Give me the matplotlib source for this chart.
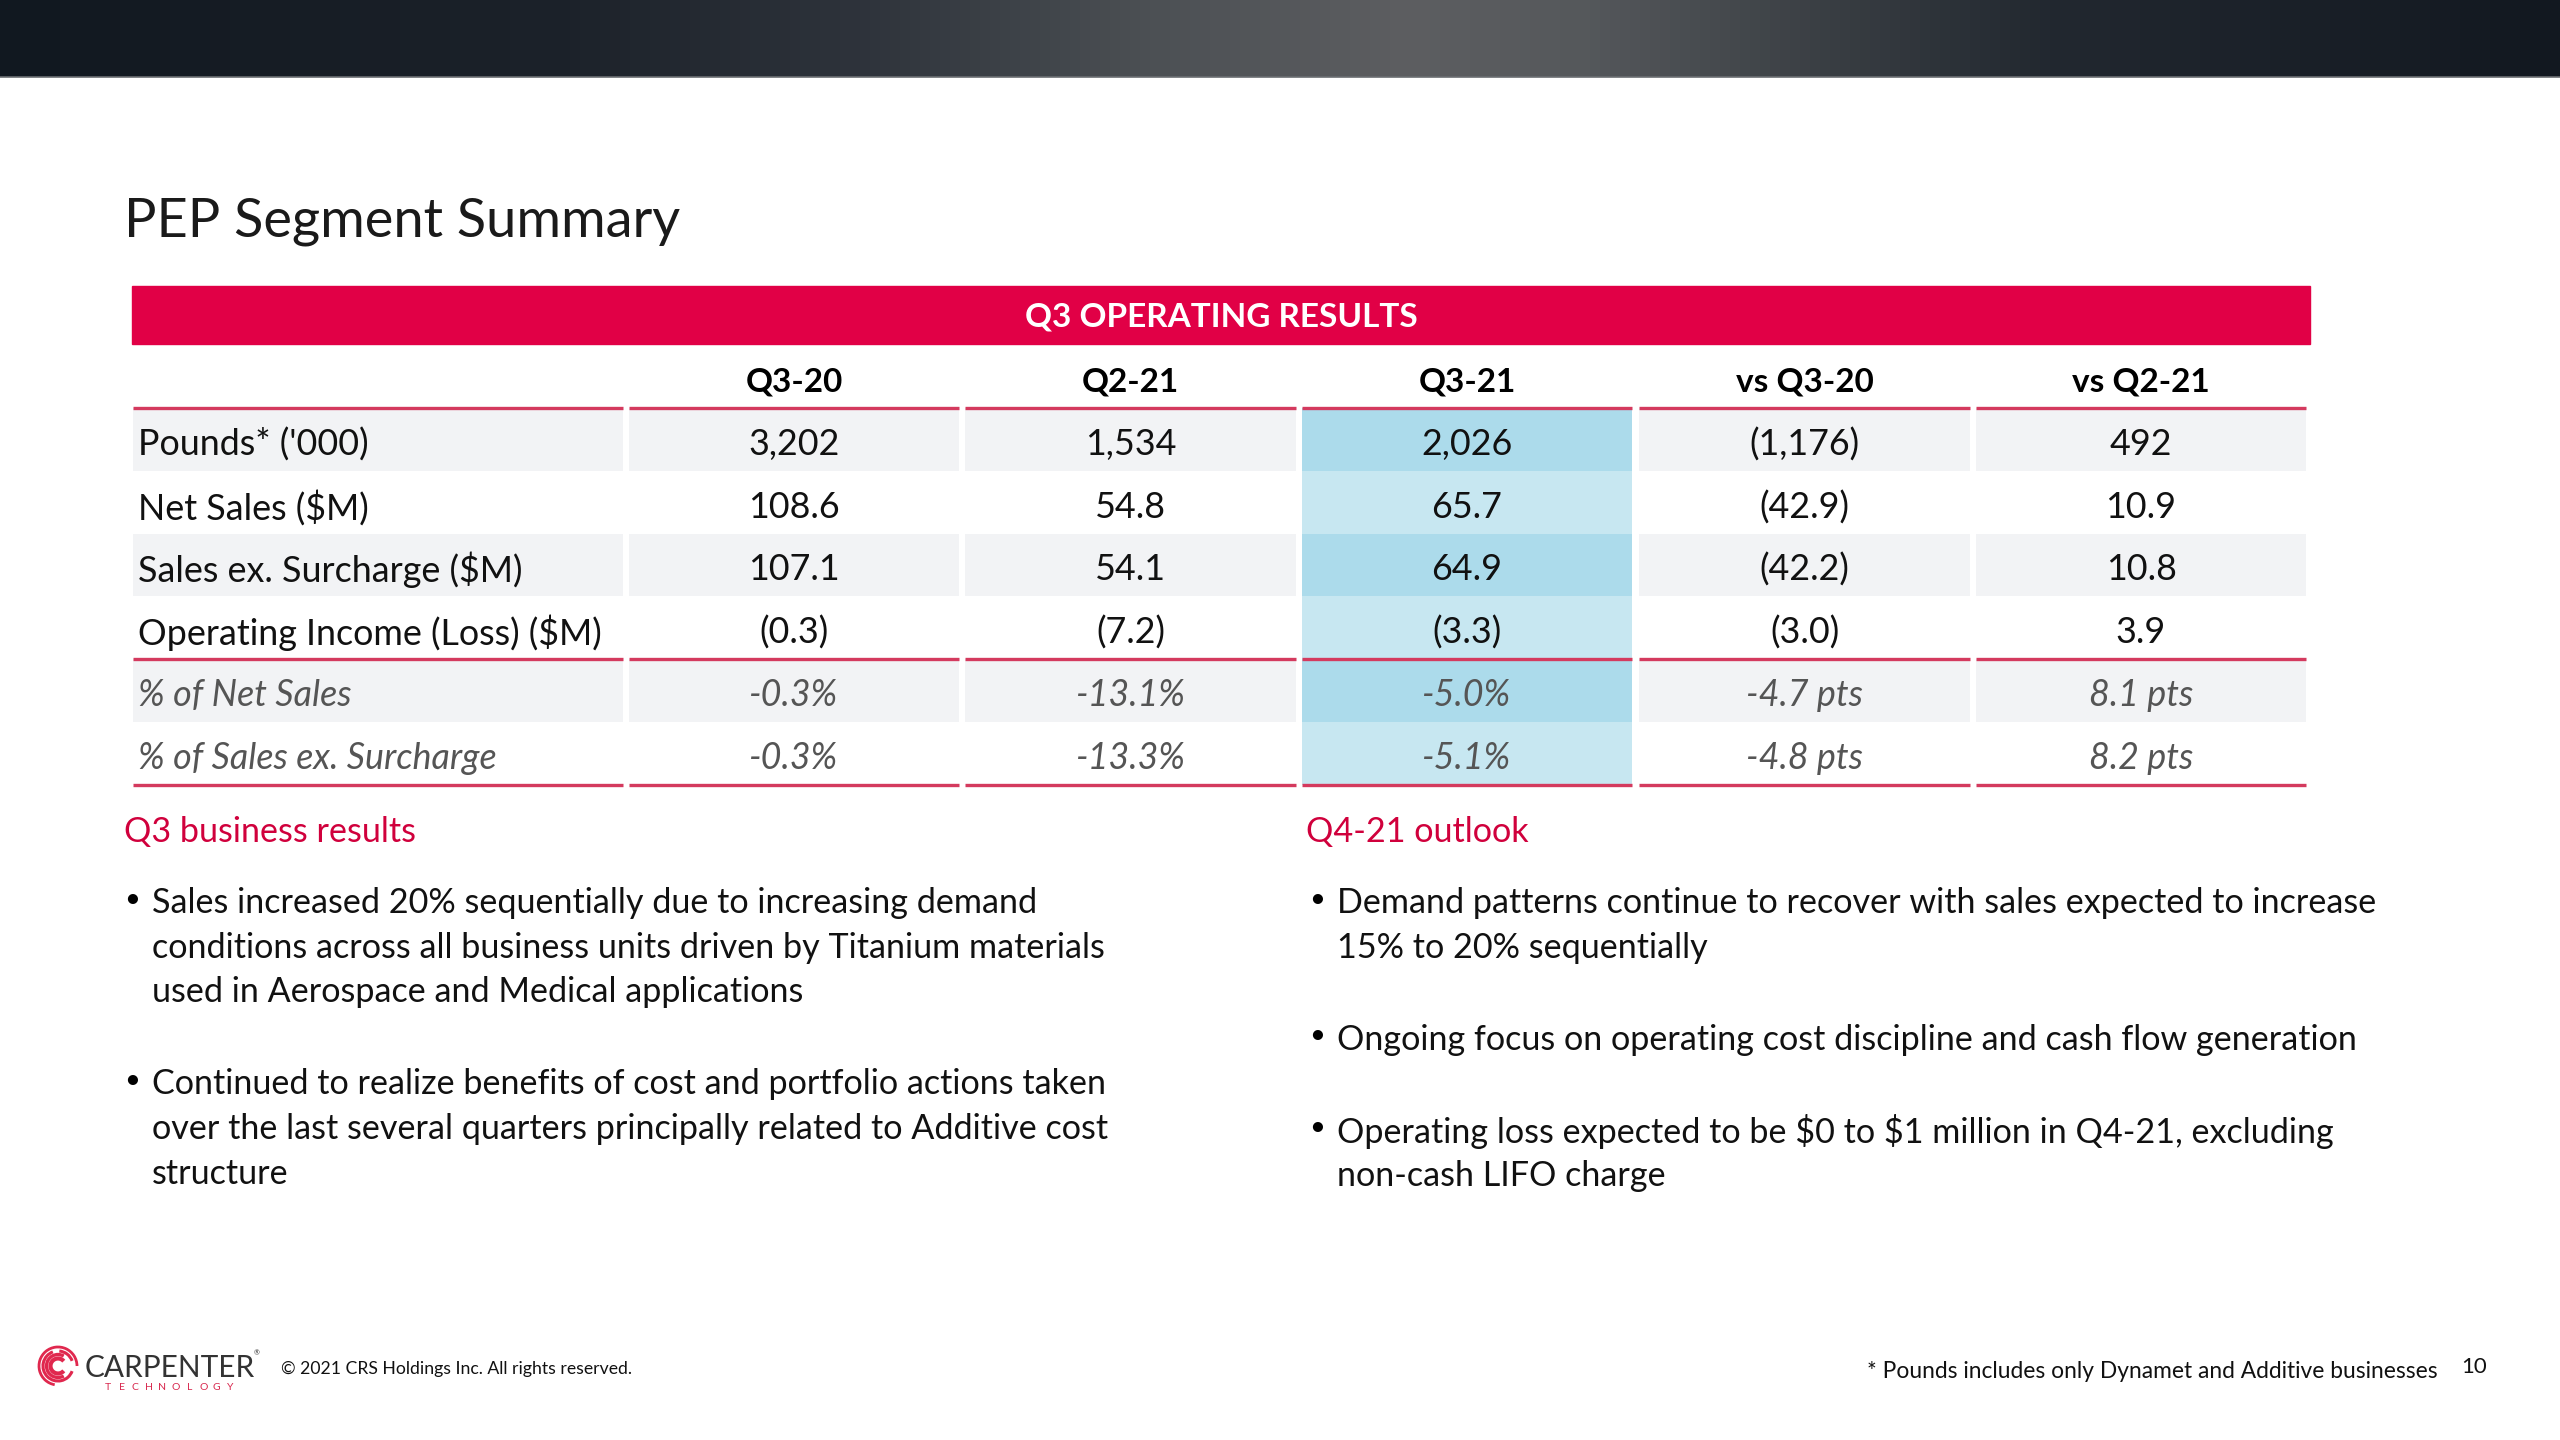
import numpy as np
import matplotlib
matplotlib.use("Agg")
import matplotlib.pyplot as plt
from matplotlib.patches import Rectangle, Arc
from matplotlib.colors import LinearSegmentedColormap

plt.rcParams['font.family'] = ['Lato', 'DejaVu Sans']

# ---- data ----
title = "PEP Segment Summary"
table_title = "Q3 OPERATING RESULTS"
col_labels = ["Q3-20", "Q2-21", "Q3-21", "vs Q3-20", "vs Q2-21"]
row_labels = ["Pounds* ('000)", "Net Sales ($M)", "Sales ex. Surcharge ($M)",
              "Operating Income (Loss) ($M)", "% of Net Sales", "% of Sales ex. Surcharge"]
q3_20 = ["3,202", "108.6", "107.1", "(0.3)", "-0.3%", "-0.3%"]
q2_21 = ["1,534", "54.8", "54.1", "(7.2)", "-13.1%", "-13.3%"]
q3_21 = ["2,026", "65.7", "64.9", "(3.3)", "-5.0%", "-5.1%"]
vs_q3_20 = ["(1,176)", "(42.9)", "(42.2)", "(3.0)", "-4.7 pts", "-4.8 pts"]
vs_q2_21 = ["492", "10.9", "10.8", "3.9", "8.1 pts", "8.2 pts"]
columns = [q3_20, q2_21, q3_21, vs_q3_20, vs_q2_21]
italic_rows = [4, 5]

left_head = "Q3 business results"
left_bullets = [
    ["Sales increased 20% sequentially due to increasing demand",
     "conditions across all business units driven by Titanium materials",
     "used in Aerospace and Medical applications"],
    ["Continued to realize benefits of cost and portfolio actions taken",
     "over the last several quarters principally related to Additive cost",
     "structure"],
]
right_head = "Q4-21 outlook"
right_bullets = [
    ["Demand patterns continue to recover with sales expected to increase",
     "15% to 20% sequentially"],
    ["Ongoing focus on operating cost discipline and cash flow generation"],
    ["Operating loss expected to be $0 to $1 million in Q4-21, excluding",
     "non-cash LIFO charge"],
]
copyright_txt = "\u00a9 2021 CRS Holdings Inc. All rights reserved."
footnote = "* Pounds includes only Dynamet and Additive businesses"
page_no = "10"

# ---- style ----
RED = "#e10046"
LINE_RED = "#d43a5e"
GRAY_ROW = "#f2f3f5"
BLUE_DARK = "#acdbeb"
BLUE_LIGHT = "#c7e7f1"

W, H = 2560, 1440
fig = plt.figure(figsize=(25.6, 14.4), dpi=100)
ax = fig.add_axes([0, 0, 1, 1])
ax.set_xlim(0, W)
ax.set_ylim(H, 0)
ax.axis('off')

# top gradient band
band = LinearSegmentedColormap.from_list("band", [
    (0.0, "#111820"), (0.22, "#1c222a"), (0.34, "#2f343c"), (0.45, "#4c5054"),
    (0.55, "#5d5e61"), (0.62, "#55585b"), (0.72, "#383d42"), (0.80, "#222830"),
    (1.0, "#121820")])
ax.imshow(np.linspace(0, 1, 512)[None, :], cmap=band, aspect='auto',
          extent=[0, W, 77, 0], zorder=0)
ax.plot([0, W], [77, 77], color="#6b6e72", lw=1.2)
ax.set_xlim(0, W)
ax.set_ylim(H, 0)

ax.text(124, 221, title, fontsize=39, color="#1a1a1a", va='center', ha='left')

# table layout
tab_x0, tab_x1 = 132, 2310
label_edges = (133, 623)
col_edges = [(629, 959), (965, 1296), (1302, 1632), (1639, 1970), (1976, 2306)]
head_y = 382
row_top = 408
row_h = 62.8
fs_tab = 25.8
fs_bold = 24

ax.add_patch(Rectangle((tab_x0, 286), tab_x1 - tab_x0, 58, color=RED, zorder=1))
ax.text((tab_x0 + tab_x1) / 2, 317, table_title, color='white', fontsize=fs_bold,
        fontweight='bold', ha='center', va='center')

for j, lab in enumerate(col_labels):
    cx = sum(col_edges[j]) / 2
    ax.text(cx, head_y, lab, fontsize=fs_bold, fontweight='bold', ha='center',
            va='center', color='black')

all_edges = [label_edges] + col_edges
for i, rl in enumerate(row_labels):
    y0 = row_top + i * row_h
    cy = y0 + row_h / 2 + 5
    for k, (a, b) in enumerate(all_edges):
        if k == 3:
            fc = BLUE_DARK if i % 2 == 0 else BLUE_LIGHT
        else:
            fc = GRAY_ROW if i % 2 == 0 else 'white'
        ax.add_patch(Rectangle((a, y0), b - a, row_h, color=fc, zorder=1, lw=0))
    ital = i in italic_rows
    tcol = "#555555" if ital else "#111111"
    ax.text(label_edges[0] + 5, cy, rl, fontsize=fs_tab, ha='left', va='center',
            color=tcol, style='italic' if ital else 'normal', parse_math=False)
    for j, col in enumerate(columns):
        cx = sum(col_edges[j]) / 2
        ax.text(cx, cy, col[i], fontsize=fs_tab, ha='center', va='center',
                color=tcol, style='italic' if ital else 'normal', parse_math=False)

# red rules
for yl in [row_top, row_top + 4 * row_h, row_top + 6 * row_h]:
    for a, b in all_edges:
        ax.plot([a, b], [yl, yl], color=LINE_RED, lw=2.4, zorder=3,
                solid_capstyle='butt')

# bullet sections
fs_b = 24.6
line_gap = 44.7
para_gap = 92


def draw_bullets(x_head, x_dot, x_txt, head, bullets):
    ax.text(x_head, 832, head, fontsize=fs_b, color="#d0003c", ha='left', va='center')
    y = 903
    for lines in bullets:
        ax.text(x_dot, y - 4, "\u2022", fontsize=fs_b * 0.8, ha='left', va='center',
                color='black')
        for k, ln in enumerate(lines):
            ax.text(x_txt, y, ln, fontsize=fs_b, ha='left', va='center',
                    color='#111111', parse_math=False)
            if k < len(lines) - 1:
                y += line_gap
        y += para_gap


draw_bullets(124, 124, 152, left_head, left_bullets)
draw_bullets(1306, 1309, 1337, right_head, right_bullets)

# footer logo
for r, t1, t2, lw in [(7.5, 40, 320, 3.0), (11.5, 60, 300, 2.4), (15, 20, 250, 2.2),
                      (15, 275, 340, 2.2), (19, 100, 360, 2.0)]:
    ax.add_patch(Arc((58, 1366), 2 * r, 2 * r, theta1=t1, theta2=t2,
                     color="#e0284e", lw=lw))
ax.text(85, 1368, "CARPENTER", fontsize=21.4, color="#333333", ha='left', va='center')
ax.text(254, 1353, "\u00ae", fontsize=5, color="#333333", ha='left', va='center')
for k, ch in enumerate("TECHNOLOGY"):
    ax.text(108 + k * 13.6, 1388, ch, fontsize=7.5, color="#d8284e",
            ha='center', va='center')
ax.text(281, 1369, copyright_txt, fontsize=12.7, color="#111111", ha='left', va='center')
ax.text(2438, 1371, footnote, fontsize=16.4, color="#111111", ha='right', va='center')
ax.text(2474, 1367, page_no, fontsize=16, color="#111111", ha='center', va='center')

fig.savefig("out.png", dpi=100)
